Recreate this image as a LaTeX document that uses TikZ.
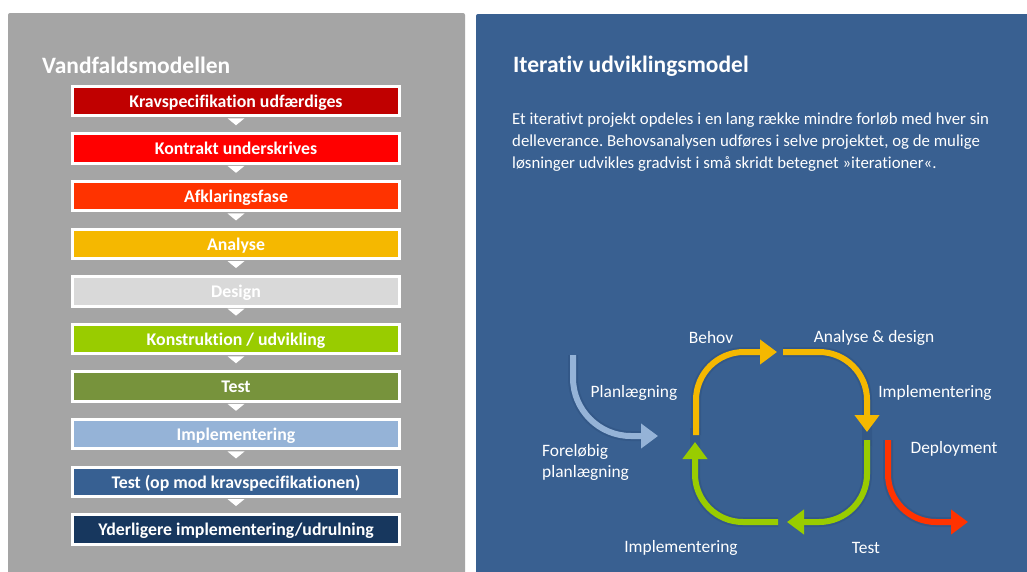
\documentclass[tikz,border=0pt]{standalone}
\usepackage{fontspec}
\setmainfont{Carlito}[Ligatures=NoCommon]
\usetikzlibrary{arrows.meta}
\definecolor{panelgray}{RGB}{165,165,165}
\definecolor{panelblue}{RGB}{57,96,145}
\definecolor{c1}{RGB}{192,0,0}
\definecolor{c2}{RGB}{255,0,0}
\definecolor{c3}{RGB}{255,51,0}
\definecolor{c4}{RGB}{245,184,0}
\definecolor{c5}{RGB}{217,217,217}
\definecolor{c6}{RGB}{153,204,0}
\definecolor{c7}{RGB}{119,147,60}
\definecolor{c8}{RGB}{149,179,215}
\definecolor{c9}{RGB}{55,96,146}
\definecolor{c10}{RGB}{23,55,94}
\definecolor{ayellow}{RGB}{245,184,0}
\definecolor{agreen}{RGB}{153,204,0}
\definecolor{ablue}{RGB}{149,179,215}
\definecolor{ared}{RGB}{255,51,0}
\definecolor{glow}{RGB}{48,84,130}
\begin{document}
\frenchspacing
\begin{tikzpicture}[x=1pt,y=-1pt,
  phase/.style={draw=white,line width=3pt,minimum width=327pt,minimum height=29.5pt,inner sep=0pt,
    text height=12.6pt,text depth=0pt,
    text=white,font=\fontsize{17.8}{20}\selectfont\bfseries},
  pointer/.style={fill=white,draw=none},
  ttl/.style={anchor=base west,text=white,font=\fontsize{23.5}{26}\selectfont\bfseries,inner sep=0pt},
  para/.style={anchor=base west,text=white,font=\fontsize{16.8}{20}\selectfont,inner sep=0pt},
  lbl/.style={text=white,font=\fontsize{17.4}{20}\selectfont,inner sep=0pt},
  cyc/.style={line width=6pt,-{Triangle[width=24pt,length=17pt]}},
  halo/.style={line width=10pt,draw=glow,opacity=0.6}]
\useasboundingbox (0,0) rectangle (1027,571);
\fill[white] (0,0) rectangle (1027,571);
% panels
\fill[panelgray,rounded corners=2pt] (8,13) rectangle (465,575);
\fill[panelblue,rounded corners=2pt] (476,14) rectangle (1031,575);
% left title
\node[ttl] (ltitle) at (42,73) {Vandfaldsmodellen};
% phases
\node[phase,fill=c1]  (p0) at (236,101.0) {Kravspecifikation udfærdiges};
\node[phase,fill=c2]  (p1) at (236,148.6) {Kontrakt underskrives};
\node[phase,fill=c3]  (p2) at (236,196.2) {Afklaringsfase};
\node[phase,fill=c4]  (p3) at (236,243.8) {Analyse};
\node[phase,fill=c5]  (p4) at (236,291.4) {Design};
\node[phase,fill=c6]  (p5) at (236,339.0) {Konstruktion / udvikling};
\node[phase,fill=c7]  (p6) at (236,386.6) {Test};
\node[phase,fill=c8]  (p7) at (236,434.2) {Implementering};
\node[phase,fill=c9]  (p8) at (236,481.8) {Test (op mod kravspecifikationen)};
\node[phase,fill=c10] (p9) at (236,529.4) {Yderligere implementering/udrulning};
\foreach \n in {0,...,8}{
  \fill[pointer] ([xshift=-8.5pt,yshift=-1pt]p\n.south) -- ([xshift=8.5pt,yshift=-1pt]p\n.south) -- ([yshift=-8pt]p\n.south) -- cycle;
}
% right title and text
\node[ttl] (rtitle) at (513,72) {Iterativ udviklingsmodel};
\node[para] (para1) at (512,124) {Et iterativt projekt opdeles i en lang række mindre forløb med hver sin};
\node[para] (para2) at (512,146) {delleverance. Behovsanalysen udføres i selve projektet, og de mulige};
\node[para] (para3) at (512,168) {løsninger udvikles gradvist i små skridt betegnet »iterationer«.};
% cycle coordinates
\coordinate (y1s) at (696,435); \coordinate (y1e) at (777,352);
\coordinate (y2s) at (783,352); \coordinate (y2e) at (867,432);
\coordinate (g1s) at (867,440); \coordinate (g1e) at (787,522);
\coordinate (g2s) at (778,522); \coordinate (g2e) at (695,442);
\coordinate (bs) at (573,355); \coordinate (be) at (658,436);
\coordinate (rs) at (888,440); \coordinate (re) at (968,522);
% halos
\draw[halo,rounded corners=48pt] (y1s) |- ([xshift=-14pt]y1e);
\draw[halo,rounded corners=48pt] (y2s) -| ([yshift=-14pt]y2e);
\draw[halo,rounded corners=48pt] (g1s) |- ([xshift=14pt]g1e);
\draw[halo,rounded corners=48pt] (g2s) -| ([yshift=14pt]g2e);
\draw[halo,rounded corners=58pt] (bs) |- ([xshift=-14pt]be);
\draw[halo,rounded corners=48pt] (rs) |- ([xshift=-14pt]re);
% arrows
\draw[cyc,draw=ayellow,rounded corners=48pt] (y1s) |- (y1e);
\draw[cyc,draw=ayellow,rounded corners=48pt] (y2s) -| (y2e);
\draw[cyc,draw=agreen,rounded corners=48pt] (g1s) |- (g1e);
\draw[cyc,draw=agreen,rounded corners=48pt] (g2s) -| (g2e);
\draw[cyc,draw=ablue,rounded corners=58pt] (bs) |- (be);
\draw[cyc,draw=ared,rounded corners=48pt] (rs) |- (re);
% labels
\node[lbl] (lbehov) at (711,338) {Behov};
\node[lbl] (lanalyse) at (874,338) {Analyse \& design};
\node[lbl] (limpl1) at (935,393) {Implementering};
\node[lbl] (lplan) at (634,393) {Planlægning};
\node[lbl,anchor=base west] (lforel1) at (542,456) {Foreløbig};
\node[lbl,anchor=base west] (lforel2) at (542,477) {planlægning};
\node[lbl] (ldeploy) at (954,449) {Deployment};
\node[lbl] (limpl2) at (681,548) {Implementering};
\node[lbl] (ltest) at (866,548) {Test};
\end{tikzpicture}
\end{document}
